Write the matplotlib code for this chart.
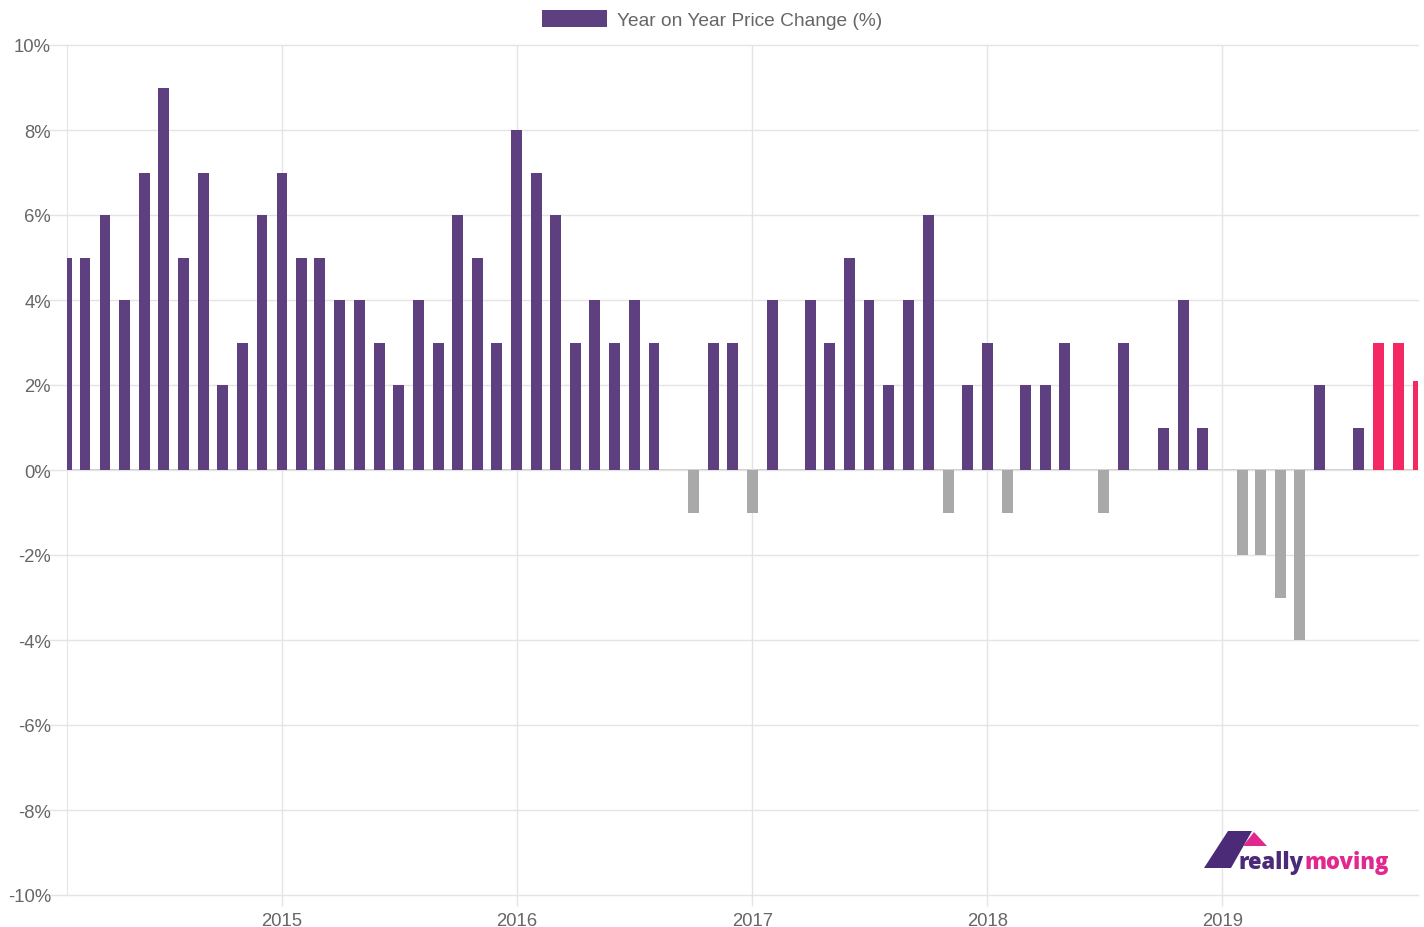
import datetime as dt
import numpy as np
import matplotlib
matplotlib.use("Agg")
import matplotlib.pyplot as plt
import matplotlib.dates as mdates
import matplotlib.ticker as ticker
from matplotlib.patches import Patch, Polygon

# monthly year-on-year change, Feb 2014 .. Nov 2019
start = dt.date(2014, 2, 1)
changes = [
    5, 5, 6, 4, 7, 9, 5, 7, 2, 3, 6,            # 2014 (Feb-Dec)
    7, 5, 5, 4, 4, 3, 2, 4, 3, 6, 5, 3,         # 2015
    8, 7, 6, 3, 4, 3, 4, 3, 0, -1, 3, 3,        # 2016
    -1, 4, 0, 4, 3, 5, 4, 2, 4, 6, -1, 2,       # 2017
    3, -1, 2, 2, 3, 0, -1, 3, 0, 1, 4, 1,       # 2018
    0, -2, -2, -3, -4, 2, 0, 1, 3, 3, 2.1,      # 2019 (Jan-Nov)
]
n_latest = 3  # last months shown in pink
label = "Year on Year Price Change (%)"
y_ticks = [-10, -8, -6, -4, -2, 0, 2, 4, 6, 8, 10]
years = [2015, 2016, 2017, 2018, 2019]

PURPLE = "#5e3f80"
GREY = "#a9a9a9"
PINK = "#f42863"
TXT = "#666666"
GRID = "#e4e4e4"

months = []
y, m = start.year, start.month
for _ in changes:
    months.append(dt.date(y, m, 1))
    m += 1
    if m > 12:
        m = 1
        y += 1

colors = []
for i, v in enumerate(changes):
    if i >= len(changes) - n_latest:
        colors.append(PINK)
    elif v < 0:
        colors.append(GREY)
    else:
        colors.append(PURPLE)

plt.rcParams["font.family"] = ["Liberation Sans", "DejaVu Sans"]

W, H, DPI = 1424, 928, 100
fig = plt.figure(figsize=(W / DPI, H / DPI), dpi=DPI)
ax = fig.add_axes([67 / W, 1 - 896 / H, (1418 - 67) / W, (896 - 46) / H])

ax.bar(months, changes, width=17, color=colors, edgecolor="none", zorder=3)

ax.set_xlim(mdates.date2num(months[0]), mdates.date2num(months[-1]))
ax.set_ylim(-10, 10)

ax.set_yticks(y_ticks)
ax.yaxis.set_major_formatter(ticker.FuncFormatter(lambda v, p: "%d%%" % v))
ax.set_xticks([mdates.date2num(dt.date(yr, 1, 1)) for yr in years])
ax.set_xticklabels([str(yr) for yr in years])

ax.grid(True, color=GRID, linewidth=1, zorder=0)
for gl in ax.get_ygridlines():
    gl.set_clip_on(False)
ax.axhline(0, color="#c4c4c4", linewidth=1.2, zorder=1)
for s in ["top", "right", "bottom"]:
    ax.spines[s].set_visible(False)
ax.spines["left"].set_color(GRID)
ax.tick_params(axis="both", colors=GRID, labelcolor=TXT, labelsize=13.3, width=1)
ax.tick_params(axis="y", length=14, pad=-2.5)
ax.tick_params(axis="x", length=8, pad=4.5)

fig.legend(handles=[Patch(facecolor=PURPLE, label=label)], loc="upper center",
           bbox_to_anchor=(0.5, 1.0), borderaxespad=0.15, frameon=False,
           fontsize=13.8, handlelength=3.4, handleheight=1.0,
           handletextpad=0.5, labelcolor=TXT)

# reallymoving logo
def px(x, y):
    return (x / W, 1 - y / H)

LOGO_P = "#4b2a77"
LOGO_K = "#e2288f"
fig.add_artist(Polygon([px(1204, 869), px(1231, 869), px(1252, 832), px(1228, 832)],
                       closed=True, facecolor=LOGO_P, edgecolor="none",
                       transform=fig.transFigure))
fig.add_artist(Polygon([px(1243, 847), px(1267, 847), px(1254, 833)],
                       closed=True, facecolor=LOGO_K, edgecolor="none",
                       transform=fig.transFigure))
t1 = fig.text(1239 / W, 1 - 869 / H, "really", color=LOGO_P, fontsize=15.8,
              fontweight="heavy", family="Open Sans", va="baseline", ha="left")
fig.canvas.draw()
bb = t1.get_window_extent()
fig.text(bb.x1 / W, 1 - 869 / H, "moving", color=LOGO_K, fontsize=15.8,
         fontweight="heavy", family="Open Sans", va="baseline", ha="left")

fig.savefig("out.png", dpi=DPI)
